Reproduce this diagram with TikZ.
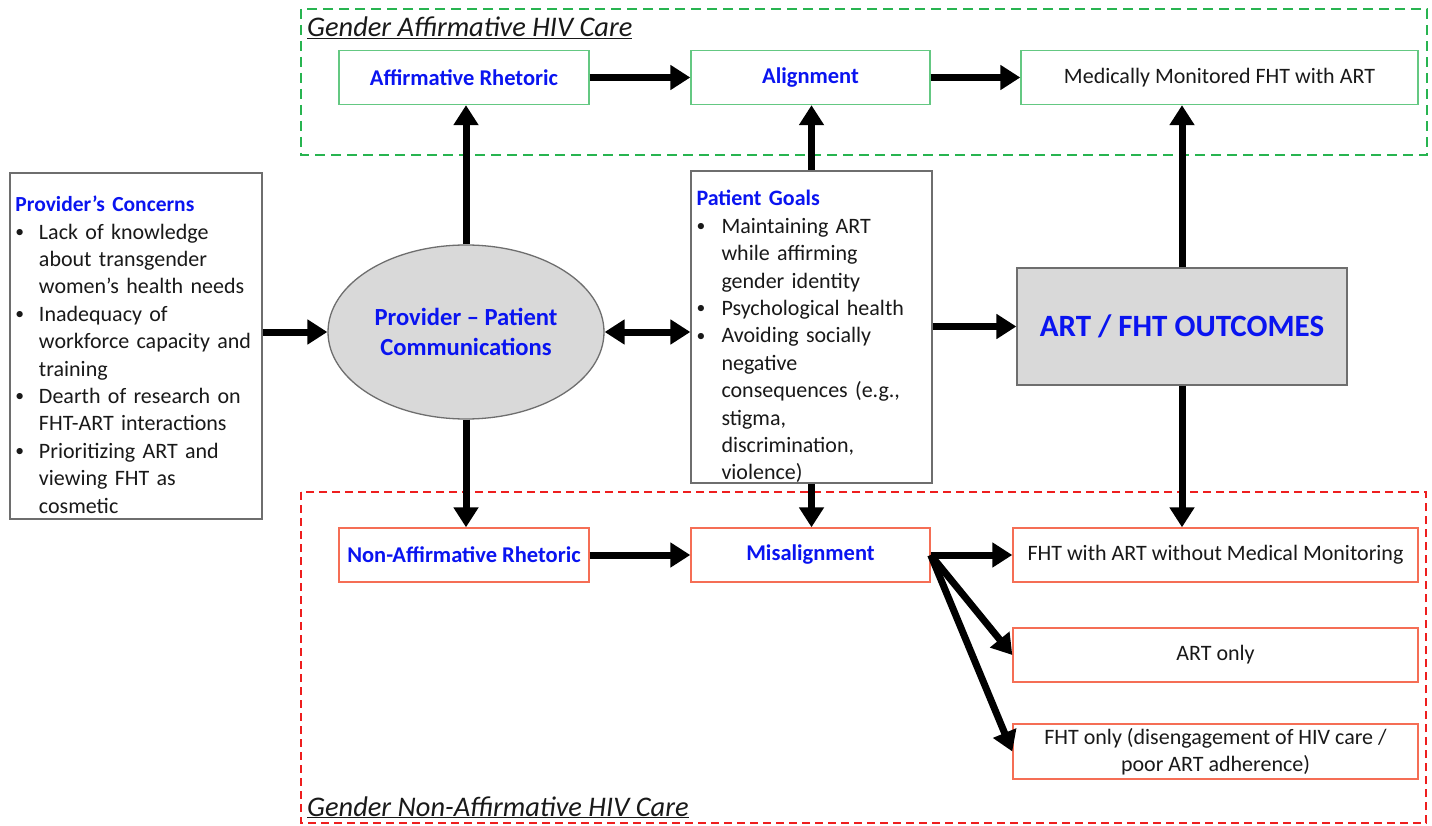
\documentclass[tikz,border=0pt]{standalone}
\usepackage{fontspec}
\setmainfont{Carlito}
\usetikzlibrary{arrows.meta,shapes.geometric}
\definecolor{gbox}{RGB}{100,200,130}
\definecolor{gdash}{RGB}{40,180,80}
\definecolor{rbox}{RGB}{245,110,85}
\definecolor{rdash}{RGB}{238,30,30}
\definecolor{fillg}{RGB}{217,217,217}
\definecolor{edgeg}{RGB}{110,110,110}
\definecolor{txt}{RGB}{25,25,25}
\definecolor{ttl}{RGB}{10,20,240}
\newcommand{\bul}{\raisebox{1.5pt}{\scalebox{0.8}{\textbullet}}}
\begin{document}
\begin{tikzpicture}[x=1pt,y=-1pt,
  every node/.style={font=\fontsize{22}{27.4}\selectfont, text=txt, inner sep=0pt},
  ttltext/.style={font=\fontsize{22.5}{26}\selectfont\bfseries, text=ttl},
  gbx/.style={draw=gbox, line width=1.4pt, minimum width=#1, minimum height=54pt},
  rbx/.style={draw=rbox, line width=1.4pt, minimum width=#1, minimum height=54pt},
  listbox/.style={draw=edgeg, line width=1.3pt, fill=white, align=left, inner xsep=5.5pt},
  grouplabel/.style={font=\fontsize{28.4}{32}\selectfont\itshape, text=txt, anchor=base west},
  bigarrow/.style={line width=7pt, -{Triangle[length=20pt,width=24pt]}},
  dblarrow/.style={line width=7pt, {Triangle[length=20pt,width=24pt]}-{Triangle[length=20pt,width=24pt]}},
]
\useasboundingbox (0,0) rectangle (1432,826);
\fill[white] (0,0) rectangle (1432,826);

% group frames
\draw[gdash, line width=2pt, dash pattern=on 10pt off 6pt] (301,9) rectangle (1427,155);
\draw[rdash, line width=1.8pt, dash pattern=on 8pt off 5pt] (301,492) rectangle (1426,823);
\node[grouplabel] (glab) at (307,37) {\underline{Gender Affirmative HIV Care}};
\node[grouplabel] (nglab) at (307,816) {\underline{Gender Non-Affirmative HIV Care}};

% affirmative row
\node[gbx=250pt, ttltext] (AR) at (464,77.5) {Affirmative Rhetoric};
\node[gbx=239pt, ttltext] (Al) at (810.5,77.5) {Alignment};
\node[gbx=397pt] (MM) at (1219.5,77.5) {Medically Monitored FHT with ART};

% provider concerns
\node[listbox, text width=241pt, minimum height=346pt] (conc) at (136,346) {%
\rule{0pt}{36pt}{\color{ttl}\bfseries\fontsize{21.5}{27.4}\selectfont Provider’s Concerns}\\
\begin{tabular}[t]{@{}p{23.5pt}@{}l@{}}
\bul & Lack of knowledge\\
 & about transgender\\
 & women’s health needs\\
\bul & Inadequacy of\\
 & workforce capacity and\\
 & training\\
\bul & Dearth of research on\\
 & FHT-ART interactions\\
\bul & Prioritizing ART and\\
 & viewing FHT as\\
 & cosmetic\\[-5pt]
\end{tabular}};

% ellipse
\node[ellipse, draw=edgeg, line width=1.3pt, fill=fillg, minimum width=276pt, minimum height=174pt,
      align=center, font=\fontsize{24.6}{30}\selectfont\bfseries, text=ttl] (ell) at (466,332)
      {Provider – Patient\\Communications};

% patient goals
\node[listbox, text width=230pt, minimum height=312pt] (goals) at (811.5,327) {%
\rule{0pt}{35pt}{\color{ttl}\bfseries Patient Goals}\\
\begin{tabular}[t]{@{}p{25pt}@{}l@{}}
\bul & Maintaining ART\\
 & while affirming\\
 & gender identity\\
\bul & Psychological health\\
\bul & Avoiding socially\\
 & negative\\
 & consequences (e.g.,\\
 & stigma,\\
 & discrimination,\\
 & violence)\\[-5pt]
\end{tabular}};

% outcomes
\node[draw=edgeg, line width=1.3pt, fill=fillg, minimum width=330pt, minimum height=117pt,
      font=\fontsize{31}{35}\selectfont\bfseries, text=ttl] (out) at (1182,326.5) {ART / FHT OUTCOMES};

% non-affirmative row
\node[rbx=250pt, ttltext] (NAR) at (464,555) {Non-Affirmative Rhetoric};
\node[rbx=239pt, ttltext] (Mis) at (810.5,555) {Misalignment};
\node[rbx=405pt] (FW) at (1215.5,555) {FHT with ART without Medical Monitoring};
\node[rbx=405pt] (AO) at (1215.5,655) {ART only};
\node[rbx=405pt, minimum height=55pt, align=center] (FO) at (1215.5,751.5)
      {FHT only (disengagement of HIV care /\\poor ART adherence)};

% connectors
\draw[bigarrow] (conc.east |- ell.west) -- (ell.west);
\draw[bigarrow] (ell.north) -- (ell.north |- AR.south);
\draw[bigarrow] (ell.south) -- (ell.south |- NAR.north);
\draw[dblarrow] (ell.east) -- (ell.east -| goals.west);
\draw[bigarrow] (AR.east) -- (Al.west);
\draw[bigarrow] (Al.east) -- (MM.west);
\draw[bigarrow] (goals.north) -- (goals.north |- Al.south);
\draw[bigarrow] (goals.south) -- (goals.south |- Mis.north);
\draw[bigarrow] (goals.east |- out.west) -- (out.west);
\draw[bigarrow] (out.north) -- (out.north |- MM.south);
\draw[bigarrow] (out.south) -- (out.south |- FW.north);
\draw[bigarrow] (NAR.east) -- (Mis.west);
\draw[bigarrow] (Mis.east) -- (FW.west);
\draw[bigarrow] (Mis.east) -- (AO.west);
\draw[bigarrow] (Mis.east) -- (FO.west);
\end{tikzpicture}
\end{document}
